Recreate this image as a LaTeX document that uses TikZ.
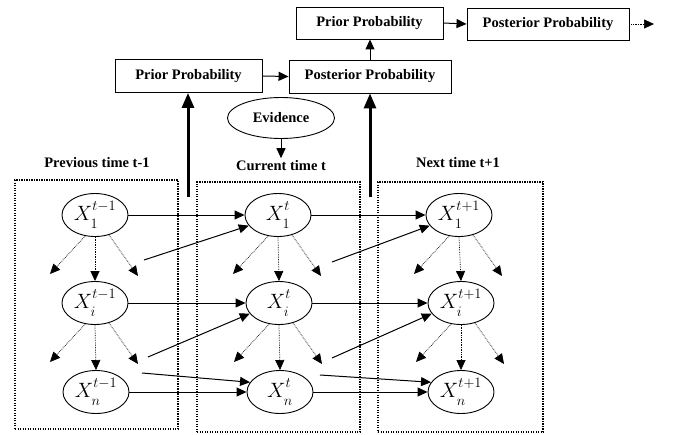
\documentclass[tikz,border=0pt]{standalone}
\usepackage{fontspec}
\setmainfont{Liberation Serif}
\usetikzlibrary{shapes.geometric,arrows.meta}
\newcommand{\vx}[2]{$X^{\raisebox{3pt}{$\scriptstyle #1$}}_{\raisebox{-3pt}{$\scriptstyle #2$}}$}
\begin{document}
\begin{tikzpicture}[x=1pt,y=-1pt,
  box/.style={draw,line width=0.9pt,inner sep=0pt,font=\bfseries\fontsize{14.5}{16}\selectfont},
  var/.style={draw,ellipse,line width=0.9pt,minimum width=66pt,minimum height=43pt,inner sep=0pt,font=\fontsize{20}{22}\selectfont},
  lbl/.style={inner sep=2.5pt,font=\bfseries\fontsize{14.5}{16}\selectfont},
  tip/.style={-{Triangle[length=10pt,width=9pt]}},
  sol/.style={tip,line width=1pt},
  dotarr/.style={-{Triangle[length=10pt,width=9pt]},densely dotted,line width=0.7pt},
  thickarr/.style={-{Triangle[length=15pt,width=12pt]},line width=3pt},
  frame/.style={draw,line width=1.5pt,dash pattern=on 1.3pt off 1.2pt,inner sep=0pt}
]
\useasboundingbox (0,0) rectangle (688,434);

% boxes
\node[box,minimum width=147pt,minimum height=32pt] (prior2) at (369.5,23) {Prior Probability};
\node[box,minimum width=162pt,minimum height=32pt] (post2) at (548,24) {Posterior Probability};
\node[box,minimum width=147pt,minimum height=33pt] (prior1) at (188.5,76) {Prior Probability};
\node[box,minimum width=162pt,minimum height=33pt] (post1) at (370,76.5) {Posterior Probability};
\node[draw,ellipse,line width=0.9pt,minimum width=107pt,minimum height=41pt,inner sep=0pt,font=\bfseries\fontsize{14.5}{16}\selectfont] (ev) at (281,118) {Evidence};

\coordinate (tail) at (654,24);
\draw[sol] (prior1.east) -- (post1.west);
\draw[sol] (prior2.east) -- (post2.west);
\draw[sol] (post1.north) -- (post1.north |- prior2.south);
\draw[dotarr] (post2.east) -- (tail);

% labels
\node[lbl] (prev) at (97,163) {Previous time t-1};
\node[lbl] (cur) at (281,166) {Current time t};
\node[lbl] (next) at (458,163) {Next time t+1};
\draw[sol] (ev.south) -- (cur.north);

% frames
\node[frame,minimum width=163pt,minimum height=249pt] (f1) at (96.5,304.5) {};
\node[frame,minimum width=163pt,minimum height=250pt] (f2) at (278.5,307) {};
\node[frame,minimum width=165pt,minimum height=250pt] (f3) at (460.5,307) {};

% thick arrows
\coordinate (u1) at (188,197);
\coordinate (u2) at (370,197);
\draw[thickarr] (u1) -- (u1 |- prior1.south);
\draw[thickarr] (u2) -- (u2 |- post1.south);

% variables
\node[var] (a1) at (95,215) {\vx{t-1}{1}};
\node[var] (a2) at (95,303) {\vx{t-1}{i}};
\node[var] (a3) at (96,392) {\vx{t-1}{n}};
\node[var] (b1) at (278,215) {\vx{t}{1}};
\node[var] (b2) at (279,303) {\vx{t}{i}};
\node[var] (b3) at (280,392) {\vx{t}{n}};
\node[var] (c1) at (459,215) {\vx{t+1}{1}};
\node[var] (c2) at (461,303) {\vx{t+1}{i}};
\node[var] (c3) at (461,392) {\vx{t+1}{n}};

% dotted arrows inside columns
\foreach \p/\q in {a1/a2,a2/a3,b1/b2,b2/b3,c1/c2,c2/c3}{
  \draw[dotarr] (\p.245) -- ([shift={(-45,59)}]\p.center);
  \draw[dotarr] (\p.south) -- (\q.north);
  \draw[dotarr] (\p.-55) -- ([shift={(43,61)}]\p.center);
}

% connectors between columns
\coordinate (s11) at (144,260);
\coordinate (s12) at (148,357);
\coordinate (s13) at (142,373);
\coordinate (s21) at (332,262);
\coordinate (s22) at (332,358);
\coordinate (s23) at (320,375);
\draw[sol] (a1.east) -- (b1.west);
\draw[sol] (s11) -- (b1.200);
\draw[sol] (a2.east) -- (b2.west);
\draw[sol] (s12) -- (b2.200);
\draw[sol] (s13) -- (b3.162);
\draw[sol] (a3.east) -- (b3.west);
\draw[sol] (b1.east) -- (c1.west);
\draw[sol] (s21) -- (c1.200);
\draw[sol] (b2.east) -- (c2.west);
\draw[sol] (s22) -- (c2.200);
\draw[sol] (s23) -- (c3.162);
\draw[sol] (b3.east) -- (c3.west);
\end{tikzpicture}
\end{document}
